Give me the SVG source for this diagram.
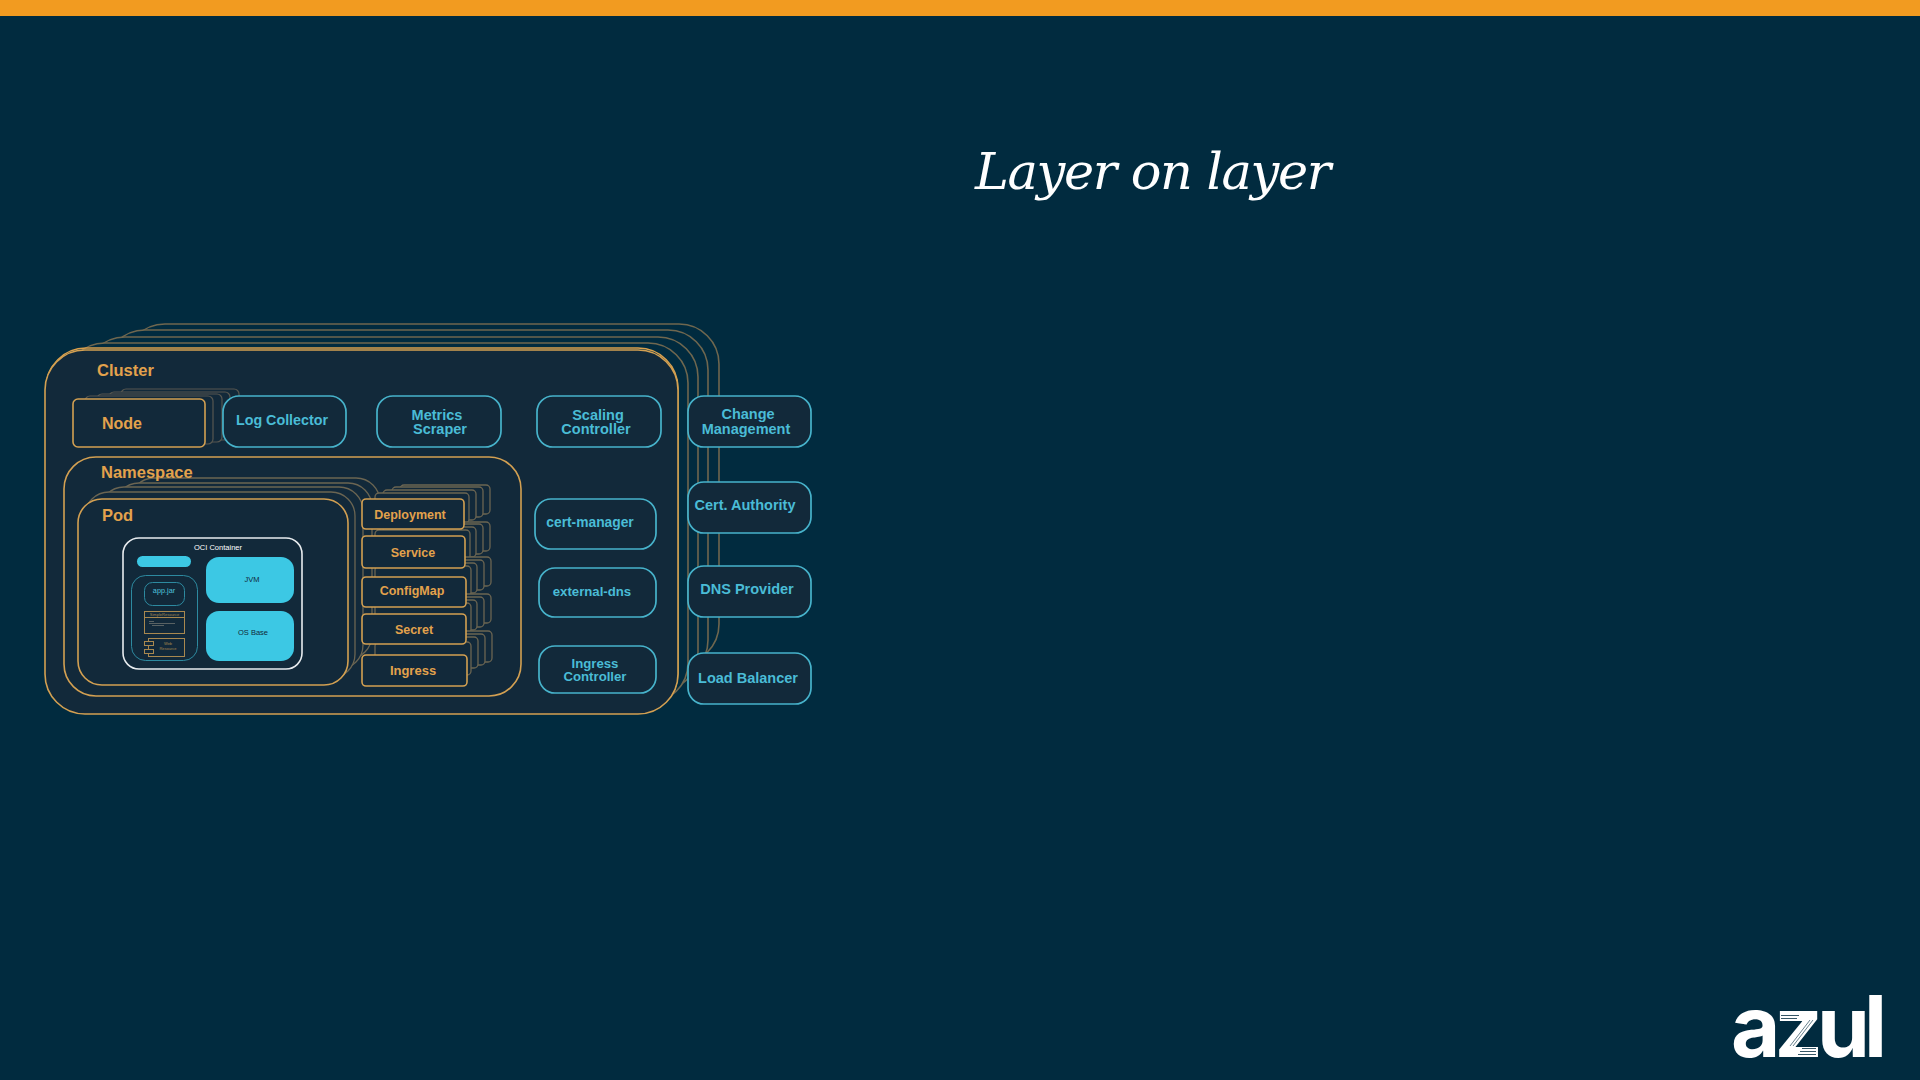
<svg xmlns="http://www.w3.org/2000/svg" width="1920" height="1080" viewBox="0 0 1920 1080">
<style>
text{font-family:"Liberation Sans",Arial,sans-serif;font-weight:700}
.o{fill:#e3a24c}.b{fill:#4abcd6}
.m{text-anchor:middle}
.back{fill:#012b3f;stroke:#6f674f;stroke-width:1.6}
.back2{fill:#12293a;stroke:#575750;stroke-width:1.2}
.back3{fill:#12293a;stroke:#6b6552;stroke-width:1.3}
.org{fill:#12293a;stroke:#d3a052;stroke-width:1.6}
.cy{fill:#12293a;stroke:#47b3cb;stroke-width:1.7}
.fillc{fill:#3cc8e4}
.tiny{fill:none;stroke:#a8884f;stroke-width:1}
.r{font-weight:400}
</style>
<rect width="1920" height="1080" fill="#012b3f"/>
<rect width="1920" height="16" fill="#f29b20"/>
<text x="975" y="189" font-size="51" letter-spacing="-1.350" style="font-family:'DejaVu Serif',serif;font-style:italic;font-weight:400" fill="#fff">Layer on layer</text>
<g id="connectors"></g>
<g id="cluster">
<rect class="back" x="125" y="324" width="594" height="340" rx="40"/>
<rect class="back" x="105" y="330" width="603" height="350" rx="40"/>
<rect class="back" x="85" y="337" width="613" height="355" rx="40"/>
<rect class="back" x="65" y="343" width="623" height="360" rx="40"/>
<rect x="46" y="348" width="632" height="365" rx="40" fill="none" stroke="#d9a04e" stroke-width="1.4"/>
<rect class="org" x="45" y="350" width="633" height="364" rx="40" stroke="#e0a24c" stroke-width="2.2"/>
<text class="o" x="97" y="376" font-size="16.5">Cluster</text>
</g>
<g id="node">
<rect class="back2" x="121" y="389" width="118" height="48" rx="5"/>
<rect class="back2" x="109" y="392" width="121" height="48" rx="5"/>
<rect class="back2" x="97" y="394" width="125" height="48" rx="5"/>
<rect class="back2" x="85" y="396" width="128" height="48" rx="5"/>
<rect class="org" x="73" y="399" width="132" height="48" rx="5"/>
<text class="o" x="102" y="429" font-size="16">Node</text>
</g>
<g id="log-collector"><rect class="cy" x="223" y="396" width="123" height="51" rx="16" stroke-width="2.4"/><text class="b m" x="282" y="425" font-size="14.3">Log Collector</text></g>
<g id="metrics-scraper"><rect class="cy" x="377" y="396" width="124" height="51" rx="16" stroke-width="2.4"/><text class="b m" x="437" y="420" font-size="14.5">Metrics</text><text class="b m" x="440" y="434" font-size="14.5">Scraper</text></g>
<g id="scaling-controller"><rect class="cy" x="537" y="396" width="124" height="51" rx="16"/><text class="b m" x="598" y="420" font-size="14.5">Scaling</text><text class="b m" x="596" y="434" font-size="14.5">Controller</text></g>
<g id="namespace">
<rect class="org" x="64" y="457" width="457" height="239" rx="32"/>
</g>
<g id="pod">
<rect class="back3" x="130" y="478" width="250" height="170" rx="24"/>
<rect class="back3" x="115" y="483" width="257" height="176" rx="24"/>
<rect class="back3" x="100" y="487" width="263" height="182" rx="24"/>
<rect class="back3" x="85" y="492" width="270" height="186" rx="24"/>
<rect class="org" x="78" y="499" width="270" height="186" rx="24"/>
<text class="o" x="102" y="521" font-size="16.5">Pod</text>
</g>
<text class="o" x="101" y="478" font-size="16.5">Namespace</text>
<g id="resource-stacks">
<rect class="back3" x="400" y="485" width="90" height="29" rx="4"/><rect class="back3" x="392" y="487" width="91" height="30" rx="4"/><rect class="back3" x="383" y="490" width="93" height="30" rx="4"/><rect class="back3" x="375" y="493" width="94" height="30" rx="4"/>
<rect class="back3" x="400" y="522" width="90" height="29" rx="4"/><rect class="back3" x="392" y="524" width="91" height="30" rx="4"/><rect class="back3" x="383" y="527" width="93" height="30" rx="4"/><rect class="back3" x="375" y="530" width="95" height="30" rx="4"/>
<rect class="back3" x="400" y="557" width="91" height="29" rx="4"/><rect class="back3" x="392" y="560" width="92" height="30" rx="4"/><rect class="back3" x="383" y="563" width="94" height="30" rx="4"/><rect class="back3" x="375" y="566" width="96" height="30" rx="4"/>
<rect class="back3" x="400" y="594" width="91" height="29" rx="4"/><rect class="back3" x="392" y="597" width="92" height="30" rx="4"/><rect class="back3" x="383" y="600" width="94" height="30" rx="4"/><rect class="back3" x="375" y="603" width="96" height="30" rx="4"/>
<rect class="back3" x="400" y="631" width="92" height="31" rx="4"/><rect class="back3" x="392" y="634" width="93" height="31" rx="4"/><rect class="back3" x="383" y="637" width="95" height="31" rx="4"/><rect class="back3" x="375" y="642" width="96" height="33" rx="4"/>
</g>
<g id="deployment"><rect class="org" x="362" y="499" width="102" height="30" rx="4"/><text class="o m" x="410" y="519" font-size="12.5">Deployment</text></g>
<g id="service"><rect class="org" x="362" y="536" width="103" height="32" rx="4"/><text class="o m" x="413" y="557" font-size="12.5">Service</text></g>
<g id="configmap"><rect class="org" x="362" y="577" width="104" height="30" rx="4"/><text class="o m" x="412" y="595" font-size="12.5">ConfigMap</text></g>
<g id="secret"><rect class="org" x="362" y="614" width="104" height="30" rx="4"/><text class="o m" x="414" y="634" font-size="12.5">Secret</text></g>
<g id="ingress"><rect class="org" x="362" y="655" width="105" height="31" rx="4"/><text class="o m" x="413" y="675" font-size="13">Ingress</text></g>
<g id="oci-container">
<rect x="123" y="538" width="179" height="131" rx="16" fill="#12293a" stroke="#e8ecef" stroke-width="1.6"/>
<text x="218" y="550" font-size="7.5" fill="#fff" class="m r">OCI Container</text>
<rect class="fillc" x="137" y="556" width="54" height="11" rx="5.5"/>
</g>
<g id="jvm"><rect class="fillc" x="206" y="557" width="88" height="46" rx="13"/><text x="252" y="582" font-size="7.5" fill="#12293a" class="m r">JVM</text></g>
<g id="os-base"><rect class="fillc" x="206" y="611" width="88" height="50" rx="13"/><text x="253" y="635" font-size="7.5" fill="#12293a" class="m r">OS Base</text></g>
<g id="app-group">
<rect x="131.5" y="575.5" width="66" height="85" rx="14" fill="none" stroke="#2d8aa0" stroke-width="1"/>
<rect x="144.500" y="582.500" width="40" height="23" rx="8" fill="none" stroke="#2d8aa0" stroke-width="1"/>
<text x="164" y="593" font-size="7.3" fill="#4fc3dc" class="m r">app.jar</text>
<rect class="tiny" x="144.500" y="611.500" width="40" height="22"/>
<path class="tiny" d="M144 617.500H185"/>
<text x="164.500" y="616" font-size="4" fill="#a8884f" class="m r">SimpleResource</text>
<path d="M149 621.500H154M149 623.500H175M152 625.500H164" stroke="#8a8a80" stroke-width=".6" fill="none"/>
<rect class="tiny" x="148.500" y="638.500" width="36" height="18"/>
<rect x="144.500" y="641.500" width="9" height="4" fill="#12293a" stroke="#a8884f"/>
<rect x="144.500" y="649.500" width="9" height="4" fill="#12293a" stroke="#a8884f"/>
<text x="168" y="645" font-size="4" fill="#a8884f" class="m r">Web</text>
<text x="168" y="650" font-size="4" fill="#a8884f" class="m r">Resource</text>
</g>
<g id="cert-manager"><rect class="cy" x="535" y="499" width="121" height="50" rx="16"/><text class="b m" x="590" y="527" font-size="13.8">cert-manager</text></g>
<g id="external-dns"><rect class="cy" x="539" y="568" width="117" height="49" rx="16"/><text class="b m" x="592" y="596" font-size="13.2">external-dns</text></g>
<g id="ingress-controller"><rect class="cy" x="539" y="646" width="117" height="47" rx="16"/><text class="b m" x="595" y="668" font-size="13.2">Ingress</text><text class="b m" x="595" y="681" font-size="13.2">Controller</text></g>
<g id="change-management"><rect class="cy" x="688" y="396" width="123" height="51" rx="16"/><text class="b m" x="748" y="419" font-size="14.5">Change</text><text class="b m" x="746" y="434" font-size="14.5">Management</text></g>
<g id="cert-authority"><rect class="cy" x="688" y="482" width="123" height="51" rx="16"/><text class="b m" x="745" y="510" font-size="14.5">Cert. Authority</text></g>
<g id="dns-provider"><rect class="cy" x="688" y="566" width="123" height="51" rx="16"/><text class="b m" x="747" y="594" font-size="14.5">DNS Provider</text></g>
<g id="load-balancer"><rect class="cy" x="688" y="653" width="123" height="51" rx="16"/><text class="b m" x="748" y="683" font-size="14.5">Load Balancer</text></g>
<g id="logo"><text x="1731" y="1057" font-size="85" fill="#fff" letter-spacing="-6" style="font-family:Inter,sans-serif;font-weight:700">azul</text>
<path d="M1781 1015.500h18M1781 1018.500h16M1781 1021.500h14M1802 1048.500h14M1800 1051.500h16M1798 1054.500h18" stroke="#012b3f" stroke-width=".8" fill="none"/>
<path d="M1790 1046l20-26M1793 1046l20-26" stroke="#012b3f" stroke-width=".6" fill="none"/></g>
</svg>
